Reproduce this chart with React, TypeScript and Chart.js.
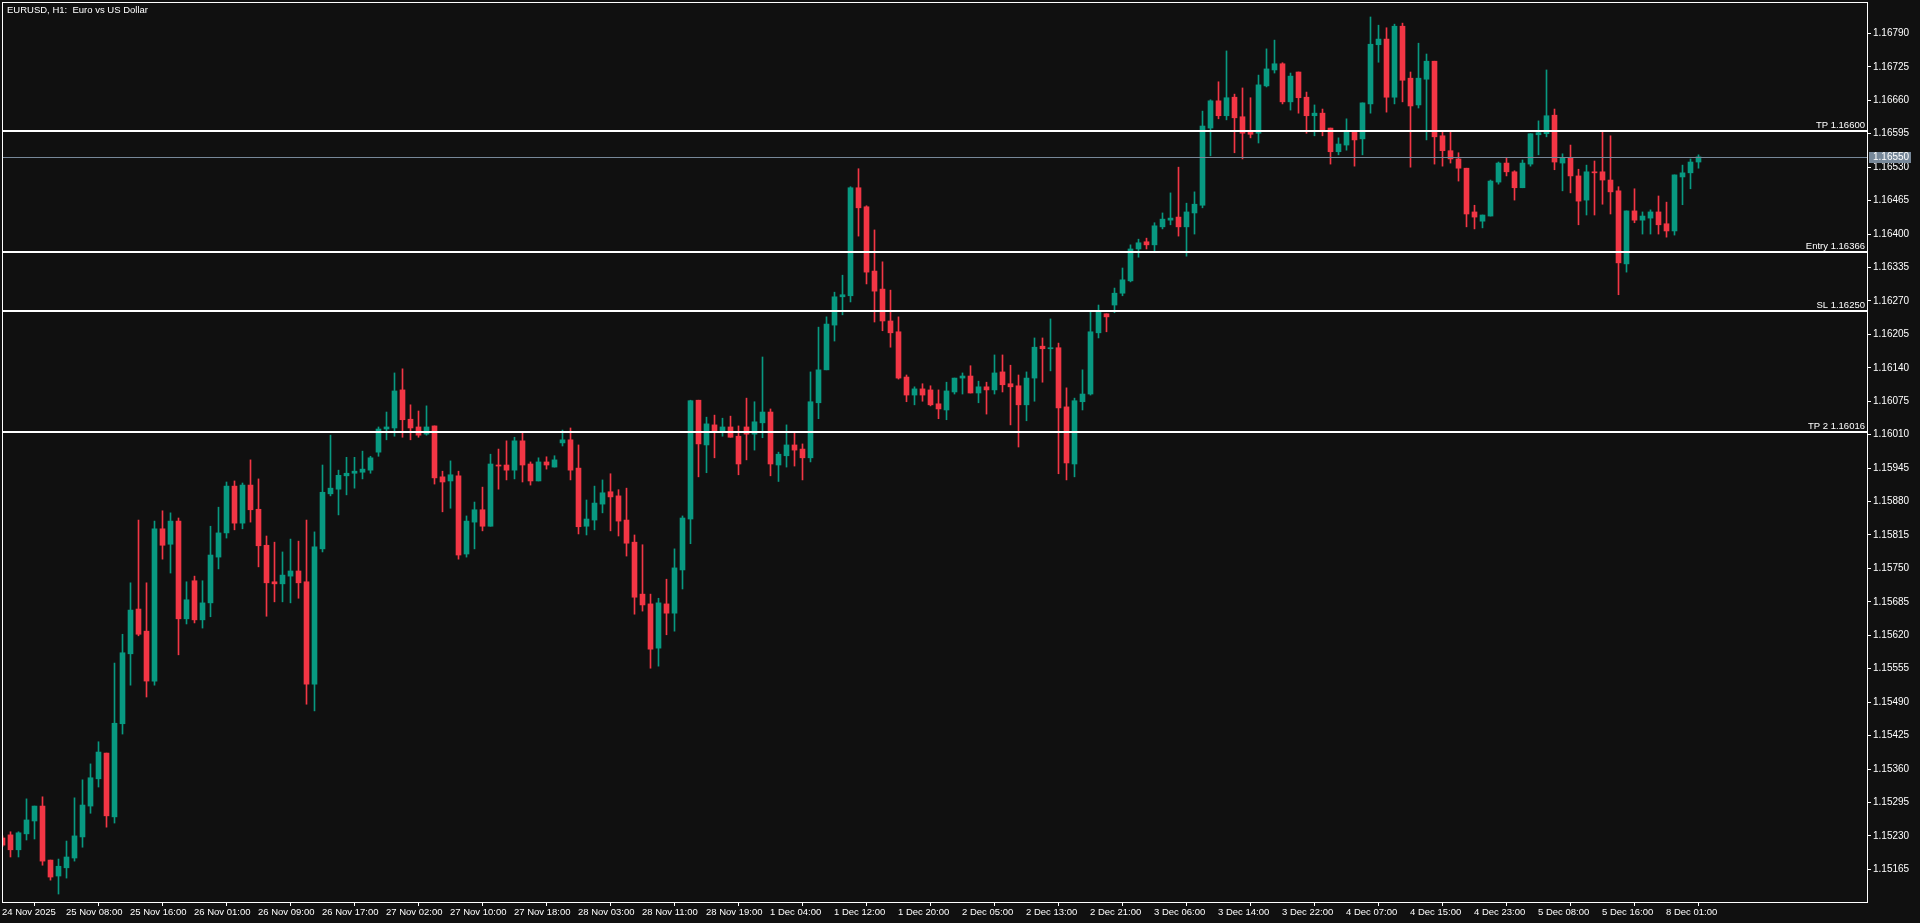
import React, { useEffect, useRef } from "react";
import { Chart, registerables } from "chart.js";

Chart.register(...registerables);

const TITLE = "EURUSD, H1:  Euro vs US Dollar";

// Hourly candles, oldest first (first one is partly hidden at the left edge)
const OPEN = [
  1.15226, 1.15232, 1.15203, 1.15234, 1.15259, 1.15288, 1.15183, 1.15152, 1.15168, 1.15187,
  1.15228, 1.15288, 1.15341, 1.15391, 1.15267, 1.15448, 1.15584, 1.15671, 1.15628, 1.15531,
  1.15827, 1.15797, 1.15842, 1.15652, 1.15726, 1.15650, 1.15683, 1.15772, 1.15819, 1.15910,
  1.15838, 1.15912, 1.15865, 1.15795, 1.15724, 1.15720, 1.15735, 1.15745, 1.15724, 1.15525,
  1.15788, 1.15895, 1.15904, 1.15930, 1.15935, 1.15937, 1.15941, 1.15976, 1.16021, 1.16023,
  1.16097, 1.16040, 1.16025, 1.16011, 1.16027, 1.15928, 1.15920, 1.15930, 1.15778, 1.15840,
  1.15864, 1.15832, 1.15951, 1.15951, 1.15941, 1.15998, 1.15953, 1.15920, 1.15957, 1.15947,
  1.15994, 1.16000, 1.15945, 1.15832, 1.15844, 1.15875, 1.15899, 1.15891, 1.15844, 1.15801,
  1.15700, 1.15681, 1.15595, 1.15681, 1.15663, 1.15747, 1.15846, 1.16077, 1.15990, 1.16029,
  1.16017, 1.16025, 1.16007, 1.16025, 1.16011, 1.16033, 1.16054, 1.15951, 1.15969, 1.15990,
  1.15982, 1.15965, 1.16072, 1.16136, 1.16223, 1.16278, 1.16280, 1.16490, 1.16453, 1.16328,
  1.16293, 1.16231, 1.16210, 1.16122, 1.16087, 1.16099, 1.16097, 1.16070, 1.16058, 1.16093,
  1.16120, 1.16124, 1.16091, 1.16103, 1.16097, 1.16132, 1.16109, 1.16105, 1.16068, 1.16120,
  1.16182, 1.16177, 1.16179, 1.16064, 1.15953, 1.16074, 1.16089, 1.16208, 1.16245, 1.16262,
  1.16285, 1.16309, 1.16371, 1.16385, 1.16379, 1.16414, 1.16427, 1.16433, 1.16414, 1.16441,
  1.16456, 1.16606, 1.16659, 1.16630, 1.16666, 1.16628, 1.16598, 1.16596, 1.16688, 1.16719,
  1.16731, 1.16657, 1.16715, 1.16666, 1.16630, 1.16635, 1.16606, 1.16560, 1.16573, 1.16600,
  1.16585, 1.16653, 1.16768, 1.16779, 1.16666, 1.16804, 1.16703, 1.16651, 1.16701, 1.16736,
  1.16591, 1.16562, 1.16546, 1.16528, 1.16443, 1.16425, 1.16435, 1.16501, 1.16538, 1.16521,
  1.16490, 1.16536, 1.16593, 1.16595, 1.16631, 1.16538, 1.16548, 1.16513, 1.16466, 1.16521,
  1.16521, 1.16505, 1.16484, 1.16342, 1.16445, 1.16427, 1.16431, 1.16443, 1.16420, 1.16406,
  1.16511, 1.16519, 1.16540,
];

const HIGH = [
  1.15230, 1.15238, 1.15238, 1.15302, 1.15288, 1.15306, 1.15183, 1.15185, 1.15220, 1.15304,
  1.15339, 1.15370, 1.15413, 1.15391, 1.15566, 1.15622, 1.15722, 1.15844, 1.15722, 1.15842,
  1.15862, 1.15858, 1.15848, 1.15724, 1.15735, 1.15726, 1.15832, 1.15869, 1.15918, 1.15920,
  1.15916, 1.15961, 1.15924, 1.15813, 1.15801, 1.15782, 1.15807, 1.15803, 1.15844, 1.15821,
  1.15951, 1.16009, 1.15941, 1.15966, 1.15966, 1.15978, 1.15968, 1.16025, 1.16054, 1.16130,
  1.16138, 1.16068, 1.16056, 1.16066, 1.16027, 1.15939, 1.15959, 1.15939, 1.15852, 1.15879,
  1.15908, 1.15972, 1.15982, 1.15998, 1.16005, 1.16013, 1.15957, 1.15965, 1.15967, 1.15969,
  1.16019, 1.16023, 1.15990, 1.15883, 1.15910, 1.15922, 1.15934, 1.15903, 1.15906, 1.15815,
  1.15796, 1.15700, 1.15692, 1.15729, 1.15788, 1.15852, 1.16077, 1.16077, 1.16044, 1.16048,
  1.16042, 1.16046, 1.16027, 1.16081, 1.16074, 1.16161, 1.16060, 1.15976, 1.16029, 1.16013,
  1.15992, 1.16132, 1.16219, 1.16239, 1.16287, 1.16320, 1.16492, 1.16527, 1.16455, 1.16408,
  1.16346, 1.16291, 1.16239, 1.16126, 1.16103, 1.16109, 1.16105, 1.16097, 1.16112, 1.16120,
  1.16130, 1.16144, 1.16114, 1.16112, 1.16165, 1.16165, 1.16145, 1.16126, 1.16132, 1.16198,
  1.16198, 1.16235, 1.16188, 1.16101, 1.16081, 1.16136, 1.16249, 1.16262, 1.16245, 1.16295,
  1.16334, 1.16379, 1.16390, 1.16392, 1.16422, 1.16441, 1.16480, 1.16530, 1.16460, 1.16482,
  1.16639, 1.16661, 1.16696, 1.16756, 1.16672, 1.16684, 1.16665, 1.16709, 1.16760, 1.16777,
  1.16733, 1.16713, 1.16715, 1.16676, 1.16651, 1.16643, 1.16606, 1.16587, 1.16624, 1.16600,
  1.16655, 1.16822, 1.16806, 1.16801, 1.16808, 1.16810, 1.16715, 1.16771, 1.16750, 1.16736,
  1.16600, 1.16598, 1.16558, 1.16528, 1.16456, 1.16437, 1.16505, 1.16540, 1.16548, 1.16523,
  1.16544, 1.16595, 1.16620, 1.16719, 1.16643, 1.16556, 1.16573, 1.16526, 1.16534, 1.16542,
  1.16600, 1.16591, 1.16492, 1.16445, 1.16488, 1.16443, 1.16447, 1.16474, 1.16462, 1.16515,
  1.16534, 1.16546, 1.16554,
];

const LOW = [
  1.15209, 1.15189, 1.15189, 1.15222, 1.15224, 1.15173, 1.15144, 1.15117, 1.15148, 1.15181,
  1.15208, 1.15274, 1.15325, 1.15247, 1.15255, 1.15428, 1.15523, 1.15619, 1.15500, 1.15523,
  1.15768, 1.15741, 1.15582, 1.15642, 1.15644, 1.15634, 1.15656, 1.15749, 1.15809, 1.15825,
  1.15827, 1.15840, 1.15753, 1.15657, 1.15685, 1.15685, 1.15683, 1.15692, 1.15486, 1.15473,
  1.15782, 1.15891, 1.15854, 1.15893, 1.15906, 1.15924, 1.15935, 1.15968, 1.16000, 1.16007,
  1.16005, 1.16000, 1.16005, 1.16009, 1.15914, 1.15860, 1.15867, 1.15768, 1.15772, 1.15788,
  1.15823, 1.15832, 1.15904, 1.15922, 1.15924, 1.15918, 1.15912, 1.15920, 1.15943, 1.15947,
  1.15988, 1.15922, 1.15817, 1.15815, 1.15825, 1.15858, 1.15823, 1.15813, 1.15774, 1.15661,
  1.15667, 1.15556, 1.15560, 1.15621, 1.15628, 1.15710, 1.15798, 1.15928, 1.15936, 1.15965,
  1.16007, 1.16005, 1.15932, 1.15961, 1.15980, 1.16004, 1.15930, 1.15919, 1.15947, 1.15949,
  1.15922, 1.15957, 1.16041, 1.16136, 1.16192, 1.16243, 1.16268, 1.16396, 1.16303, 1.16229,
  1.16212, 1.16180, 1.16118, 1.16074, 1.16068, 1.16075, 1.16066, 1.16041, 1.16039, 1.16089,
  1.16089, 1.16091, 1.16072, 1.16050, 1.16089, 1.16093, 1.16029, 1.15986, 1.16037, 1.16075,
  1.16112, 1.16134, 1.15934, 1.15922, 1.15928, 1.16058, 1.16087, 1.16198, 1.16210, 1.16247,
  1.16280, 1.16307, 1.16355, 1.16371, 1.16367, 1.16410, 1.16418, 1.16396, 1.16357, 1.16400,
  1.16451, 1.16552, 1.16624, 1.16622, 1.16558, 1.16546, 1.16587, 1.16577, 1.16686, 1.16713,
  1.16653, 1.16641, 1.16635, 1.16596, 1.16591, 1.16591, 1.16536, 1.16554, 1.16563, 1.16532,
  1.16554, 1.16635, 1.16734, 1.16637, 1.16653, 1.16657, 1.16530, 1.16645, 1.16583, 1.16536,
  1.16532, 1.16538, 1.16503, 1.16414, 1.16410, 1.16412, 1.16435, 1.16497, 1.16513, 1.16466,
  1.16490, 1.16532, 1.16554, 1.16589, 1.16525, 1.16484, 1.16480, 1.16418, 1.16437, 1.16437,
  1.16458, 1.16439, 1.16282, 1.16326, 1.16422, 1.16400, 1.16400, 1.16400, 1.16394, 1.16398,
  1.16457, 1.16488, 1.16528,
];

const CLOSE = [
  1.15212, 1.15203, 1.15236, 1.15261, 1.15288, 1.15181, 1.15150, 1.15171, 1.15189, 1.15230,
  1.15290, 1.15343, 1.15393, 1.15269, 1.15449, 1.15586, 1.15669, 1.15622, 1.15531, 1.15827,
  1.15795, 1.15842, 1.15652, 1.15689, 1.15650, 1.15683, 1.15776, 1.15819, 1.15910, 1.15838,
  1.15912, 1.15864, 1.15794, 1.15722, 1.15720, 1.15737, 1.15745, 1.15722, 1.15525, 1.15792,
  1.15898, 1.15906, 1.15931, 1.15935, 1.15939, 1.15943, 1.15965, 1.16021, 1.16025, 1.16095,
  1.16039, 1.16023, 1.16009, 1.16025, 1.15926, 1.15918, 1.15932, 1.15776, 1.15842, 1.15864,
  1.15832, 1.15953, 1.15949, 1.15941, 1.15998, 1.15951, 1.15920, 1.15957, 1.15951, 1.15961,
  1.16000, 1.15941, 1.15831, 1.15846, 1.15877, 1.15897, 1.15889, 1.15842, 1.15799, 1.15694,
  1.15679, 1.15593, 1.15683, 1.15663, 1.15751, 1.15848, 1.16076, 1.15992, 1.16031, 1.16017,
  1.16025, 1.16005, 1.15953, 1.16011, 1.16035, 1.16054, 1.15953, 1.15972, 1.15990, 1.15980,
  1.15965, 1.16074, 1.16136, 1.16225, 1.16278, 1.16282, 1.16490, 1.16451, 1.16326, 1.16289,
  1.16231, 1.16208, 1.16120, 1.16087, 1.16099, 1.16087, 1.16068, 1.16060, 1.16095, 1.16120,
  1.16124, 1.16091, 1.16103, 1.16097, 1.16130, 1.16107, 1.16103, 1.16068, 1.16120, 1.16180,
  1.16177, 1.16179, 1.16062, 1.15955, 1.16076, 1.16089, 1.16210, 1.16249, 1.16239, 1.16285,
  1.16311, 1.16371, 1.16383, 1.16379, 1.16416, 1.16429, 1.16431, 1.16414, 1.16443, 1.16458,
  1.16610, 1.16659, 1.16630, 1.16665, 1.16626, 1.16596, 1.16594, 1.16690, 1.16721, 1.16731,
  1.16657, 1.16707, 1.16665, 1.16630, 1.16635, 1.16600, 1.16560, 1.16575, 1.16598, 1.16583,
  1.16655, 1.16769, 1.16779, 1.16666, 1.16804, 1.16699, 1.16649, 1.16703, 1.16736, 1.16589,
  1.16562, 1.16546, 1.16528, 1.16439, 1.16433, 1.16437, 1.16503, 1.16538, 1.16521, 1.16490,
  1.16538, 1.16595, 1.16597, 1.16630, 1.16540, 1.16548, 1.16513, 1.16464, 1.16521, 1.16519,
  1.16505, 1.16482, 1.16344, 1.16445, 1.16427, 1.16435, 1.16443, 1.16418, 1.16406, 1.16515,
  1.16519, 1.16540, 1.16550,
];

const X_LABELS = [
  "24 Nov 2025", "25 Nov 08:00", "25 Nov 16:00", "26 Nov 01:00", "26 Nov 09:00",
  "26 Nov 17:00", "27 Nov 02:00", "27 Nov 10:00", "27 Nov 18:00", "28 Nov 03:00",
  "28 Nov 11:00", "28 Nov 19:00", "1 Dec 04:00", "1 Dec 12:00", "1 Dec 20:00",
  "2 Dec 05:00", "2 Dec 13:00", "2 Dec 21:00", "3 Dec 06:00", "3 Dec 14:00",
  "3 Dec 22:00", "4 Dec 07:00", "4 Dec 15:00", "4 Dec 23:00", "5 Dec 08:00",
  "5 Dec 16:00", "8 Dec 01:00",
];
const BARS_PER_LABEL = 8;

const Y_TICKS = [
  1.15165, 1.1523, 1.15295, 1.1536, 1.15425, 1.1549, 1.15555, 1.1562, 1.15685,
  1.1575, 1.15815, 1.1588, 1.15945, 1.1601, 1.16075, 1.1614, 1.16205, 1.1627,
  1.16335, 1.164, 1.16465, 1.1653, 1.16595, 1.1666, 1.16725, 1.1679,
];

const LEVEL_NAMES = ["TP", "Entry", "SL", "TP 2"];
const LEVEL_PRICES = [1.166, 1.16366, 1.1625, 1.16016];
const CURRENT_PRICE = 1.1655;

// visible window
const X_MIN = -0.0625;
const X_MAX = 233.0625;
const Y_MIN = 1.151015;
const Y_MAX = 1.168511;

const BG = "#101010";
const UP = "#089981";
const DOWN = "#f23645";
const PRICE_GREY = "#778899";
const FONT = "'Liberation Sans', Arial, sans-serif";

const overlay = {
  id: "overlay",
  beforeDraw(chart: any) {
    const { ctx, width, height } = chart;
    ctx.save();
    ctx.fillStyle = BG;
    ctx.fillRect(0, 0, width, height);
    ctx.restore();
  },
  afterDatasetsDraw(chart: any) {
    const { ctx, chartArea: a, scales } = chart;
    const y = scales.y;
    ctx.save();
    // current price line
    const cy = Math.round(y.getPixelForValue(CURRENT_PRICE));
    ctx.fillStyle = PRICE_GREY;
    ctx.fillRect(a.left, cy, a.right - a.left, 1);
    // trade levels
    ctx.font = `9.5px ${FONT}`;
    ctx.textAlign = "right";
    ctx.textBaseline = "alphabetic";
    LEVEL_PRICES.forEach((p, i) => {
      const ly = Math.round(y.getPixelForValue(p));
      ctx.fillStyle = "#ffffff";
      ctx.fillRect(a.left, ly - 1, a.right - a.left, 2);
      ctx.fillText(`${LEVEL_NAMES[i]} ${p.toFixed(5)}`, a.right - 2, ly - 3);
    });
    ctx.restore();
  },
  afterDraw(chart: any) {
    const { ctx, chartArea: a, scales } = chart;
    const y = scales.y;
    ctx.save();
    // frame
    ctx.strokeStyle = "#ffffff";
    ctx.lineWidth = 1;
    ctx.strokeRect(a.left + 0.5, a.top + 0.5, a.right - a.left, a.bottom - a.top);
    // price tag on axis
    const cy = Math.round(y.getPixelForValue(CURRENT_PRICE));
    ctx.fillStyle = PRICE_GREY;
    ctx.fillRect(a.right + 2, cy - 5, 42, 11);
    ctx.fillStyle = "#ffffff";
    ctx.font = `10px ${FONT}`;
    ctx.textAlign = "left";
    ctx.textBaseline = "middle";
    ctx.fillText(CURRENT_PRICE.toFixed(5), a.right + 6, cy + 0.5);
    // title
    ctx.font = `9.5px ${FONT}`;
    ctx.textBaseline = "top";
    ctx.fillText(TITLE, a.left + 5, a.top + 4);
    ctx.restore();
  },
};

export default function App() {
  const ref = useRef<HTMLCanvasElement | null>(null);

  useEffect(() => {
    document.body.style.margin = "0";
    document.body.style.background = BG;
    document.documentElement.style.background = BG;
    const colors = OPEN.map((o, i) => (CLOSE[i] >= o ? UP : DOWN));
    const chart = new Chart(ref.current as HTMLCanvasElement, {
      type: "bar",
      data: {
        datasets: [
          {
            label: "body",
            data: OPEN.map((o, i) => ({ x: i, y: [o, CLOSE[i]] })) as any,
            backgroundColor: colors,
            barThickness: 5,
            minBarLength: 1,
            grouped: false,
            borderWidth: 0,
            clip: 0,
          } as any,
          {
            label: "wick",
            data: LOW.map((l, i) => ({ x: i, y: [l, HIGH[i]] })) as any,
            backgroundColor: colors,
            barThickness: 1,
            minBarLength: 1,
            grouped: false,
            borderWidth: 0,
            clip: 0,
          } as any,
        ],
      },
      options: {
        responsive: false,
        animation: false,
        devicePixelRatio: 1,
        layout: { padding: { left: 2, top: 2, right: 0, bottom: 0 }, autoPadding: false } as any,
        plugins: { legend: { display: false }, tooltip: { enabled: false }, title: { display: false } },
        scales: {
          x: {
            type: "linear",
            min: X_MIN,
            max: X_MAX,
            offset: false,
            grid: { drawOnChartArea: false, drawTicks: true, tickLength: 4, tickColor: "#ffffff", color: "#ffffff" },
            border: { display: false },
            ticks: {
              autoSkip: false,
              maxRotation: 0,
              minRotation: 0,
              align: "start",
              padding: 1,
              color: "#ffffff",
              font: { family: FONT, size: 9.5 },
              callback: (_v: any, i: number) => X_LABELS[i] ?? "",
            },
            afterBuildTicks: (s: any) => {
              s.ticks = X_LABELS.map((_, n) => ({ value: X_MIN + BARS_PER_LABEL * n }));
            },
            afterFit: (s: any) => {
              s.height = 21;
              s.paddingLeft = 0;
              s.paddingRight = 0;
            },
          } as any,
          y: {
            type: "linear",
            position: "right",
            min: Y_MIN,
            max: Y_MAX,
            grid: { drawOnChartArea: false, drawTicks: true, tickLength: 4, tickColor: "#ffffff", color: "#ffffff" },
            border: { display: false },
            ticks: {
              padding: 2,
              color: "#ffffff",
              font: { family: FONT, size: 10 },
              callback: (v: any) => Number(v).toFixed(5),
            },
            afterBuildTicks: (s: any) => {
              s.ticks = Y_TICKS.map((v) => ({ value: v }));
            },
            afterFit: (s: any) => {
              s.width = 53;
              s.paddingTop = 0;
              s.paddingBottom = 0;
            },
          } as any,
        },
      },
      plugins: [overlay],
    });
    return () => chart.destroy();
  }, []);

  return (
    <canvas
      ref={ref}
      width={1920}
      height={923}
      style={{ display: "block", width: 1920, height: 923 }}
    />
  );
}
